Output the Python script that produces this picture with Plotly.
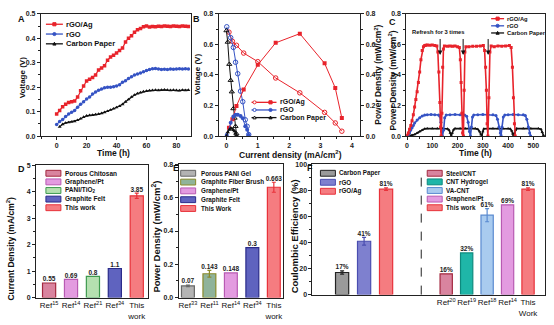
import plotly.graph_objects as go

W, H = 554, 325
FONT = "Liberation Sans, Arial, sans-serif"


def PX(x):
    return x / W


def PY(y):
    return 1 - y / H


# ---------------- DATA ----------------
# Panel A: voltage vs time
a_time = [0, 2, 4, 6, 8, 10, 12, 14, 16, 18, 20, 22, 24, 26, 28, 30, 32, 34, 36, 38, 40, 42, 44,
          46, 48, 50, 52, 54, 56, 58, 60, 62, 64, 66, 68, 70, 72, 74, 76, 78, 80, 82, 84, 86, 88]
a_rgo_ag = [0.090, 0.105, 0.120, 0.130, 0.137, 0.140, 0.143, 0.160, 0.185, 0.205, 0.225, 0.232, 0.240,
            0.250, 0.270, 0.278, 0.288, 0.310, 0.323, 0.330, 0.340, 0.350, 0.360, 0.385, 0.400, 0.410,
            0.425, 0.435, 0.440, 0.447, 0.450, 0.446, 0.448, 0.447, 0.449, 0.448, 0.450, 0.449, 0.448,
            0.450, 0.449, 0.448, 0.450, 0.449, 0.448]
a_rgo = [0.047, 0.060, 0.068, 0.080, 0.090, 0.097, 0.105, 0.118, 0.130, 0.140, 0.152, 0.160, 0.172,
         0.180, 0.187, 0.192, 0.198, 0.200, 0.200, 0.202, 0.205, 0.210, 0.220, 0.226, 0.235, 0.243,
         0.250, 0.254, 0.258, 0.263, 0.268, 0.272, 0.275, 0.276, 0.274, 0.272, 0.273, 0.272, 0.274,
         0.273, 0.274, 0.275, 0.274, 0.275, 0.274]
a_time_cp = [2, 4, 6, 8, 10, 12, 14, 16, 18, 20, 22, 24, 26, 28, 30, 32, 34, 36, 38, 40, 42, 44,
             46, 48, 50, 52, 54, 56, 58, 60, 62, 64, 66, 68, 70, 72, 74, 76, 78, 80, 82, 84, 86, 88]
a_cp = [0.038, 0.048, 0.054, 0.056, 0.058, 0.060, 0.065, 0.071, 0.078, 0.083, 0.085, 0.086, 0.088,
        0.090, 0.093, 0.097, 0.102, 0.107, 0.112, 0.117, 0.122, 0.130, 0.140, 0.150, 0.160, 0.168,
        0.174, 0.178, 0.182, 0.184, 0.186, 0.187, 0.188, 0.187, 0.188, 0.189, 0.188, 0.187, 0.188,
        0.187, 0.186, 0.188, 0.187, 0.188]

# Panel B: polarisation (voltage) and power density vs current density
b_ag_j = [0.08, 0.19, 0.32, 0.55, 1.00, 1.57, 2.34, 3.13, 3.47, 3.68]
b_ag_v = [0.68, 0.62, 0.594, 0.543, 0.487, 0.38, 0.283, 0.155, 0.086, 0.032]
b_ag_p = [0.054, 0.11, 0.197, 0.305, 0.466, 0.61, 0.67, 0.476, 0.315, 0.118]
b_rgo_j = [0.01, 0.135, 0.22, 0.29, 0.36, 0.45, 0.52, 0.60, 0.66, 0.71]
b_rgo_v = [0.715, 0.644, 0.58, 0.483, 0.408, 0.294, 0.225, 0.107, 0.064, 0.01]
b_rgo_p = [0.007, 0.087, 0.128, 0.14, 0.14, 0.132, 0.117, 0.064, 0.042, 0.007]
b_cp_j = [0.0, 0.04, 0.09, 0.135, 0.17, 0.22, 0.26, 0.29, 0.32]
b_cp_v = [0.69, 0.615, 0.47, 0.365, 0.29, 0.18, 0.118, 0.064, 0.015]
b_cp_p = [0.0, 0.025, 0.042, 0.049, 0.049, 0.04, 0.031, 0.019, 0.005]

# Panel C: power density vs time with refresh
c_ag_t = [0, 5, 10, 15, 20, 25, 30, 35, 40, 45, 50, 55, 60, 65, 70, 75, 80, 90, 100, 110, 118, 122,
          126, 130, 133, 135, 138, 141, 144, 148, 160, 170, 180, 190, 200, 207, 211, 214, 217, 220,
          223, 226, 229, 233, 245, 260, 275, 290, 302, 307, 311, 314, 317, 320, 324, 328, 333, 345,
          360, 375, 390, 405, 412, 417, 421, 425, 428]
c_ag_p = [0.005, 0.02, 0.045, 0.07, 0.10, 0.14, 0.19, 0.24, 0.29, 0.35, 0.42, 0.50, 0.56, 0.585,
          0.592, 0.594, 0.595, 0.594, 0.596, 0.593, 0.59, 0.55, 0.42, 0.22, 0.06, 0.0, 0.15, 0.45,
          0.57, 0.59, 0.588, 0.59, 0.587, 0.589, 0.585, 0.58, 0.50, 0.35, 0.15, 0.02, 0.0, 0.30,
          0.55, 0.585, 0.585, 0.587, 0.588, 0.59, 0.592, 0.56, 0.45, 0.30, 0.08, 0.0, 0.25, 0.55,
          0.59, 0.585, 0.59, 0.588, 0.59, 0.592, 0.58, 0.45, 0.25, 0.08, 0.0]
c_rgo_t = [0, 5, 10, 15, 20, 25, 30, 40, 50, 60, 70, 80, 95, 110, 125, 130, 134, 137, 140, 145,
           149, 155, 170, 190, 210, 228, 236, 242, 247, 251, 255, 259, 264, 280, 300, 320, 340, 352,
           358, 364, 369, 372, 376, 381, 387, 400, 420, 440, 460, 468, 474, 480, 485, 489]
c_rgo_p = [0.0, 0.005, 0.02, 0.04, 0.055, 0.07, 0.085, 0.105, 0.12, 0.132, 0.138, 0.14, 0.141,
           0.139, 0.138, 0.13, 0.09, 0.03, 0.0, 0.04, 0.12, 0.138, 0.14, 0.141, 0.139, 0.138, 0.13,
           0.09, 0.03, 0.0, 0.06, 0.125, 0.138, 0.14, 0.141, 0.14, 0.139, 0.135, 0.11, 0.06, 0.02,
           0.005, 0.06, 0.125, 0.138, 0.14, 0.141, 0.14, 0.139, 0.135, 0.11, 0.06, 0.02, 0.0]
c_cp_t = [0, 10, 20, 30, 40, 50, 60, 70, 80, 100, 120, 140, 160, 166, 171, 175, 179, 184, 190, 210,
          230, 250, 270, 280, 287, 292, 296, 300, 304, 320, 340, 360, 380, 400, 408, 414, 418, 421,
          425, 429, 434, 460, 490, 520, 530, 535, 540]
c_cp_p = [0.0, 0.002, 0.005, 0.01, 0.02, 0.03, 0.04, 0.048, 0.05, 0.05, 0.049, 0.05, 0.048, 0.04,
          0.02, 0.003, 0.02, 0.042, 0.05, 0.05, 0.049, 0.05, 0.049, 0.045, 0.03, 0.01, 0.002, 0.03,
          0.048, 0.05, 0.05, 0.049, 0.05, 0.05, 0.048, 0.035, 0.015, 0.003, 0.02, 0.04, 0.05, 0.049,
          0.05, 0.05, 0.045, 0.025, 0.005]
c_refresh_times = [131, 222, 321]

# Panel D: current density comparison
d_labels = ["Ref<sup>15</sup>", "Ref<sup>14</sup>", "Ref<sup>21</sup>", "Ref<sup>34</sup>", "This<br>work"]
d_names = ["Porous Chitosan", "Graphene/Pt", "PANI/TiO<sub>2</sub>", "Graphite Felt", "This work"]
d_values = [0.55, 0.69, 0.8, 1.1, 3.85]
d_errors = [0, 0, 0, 0, 0.1]
d_text = ["0.55", "0.69", "0.8", "1.1", "3.85"]

# Panel E: power density comparison
e_labels = ["Ref<sup>33</sup>", "Ref<sup>11</sup>", "Ref<sup>14</sup>", "Ref<sup>34</sup>", "This<br>work"]
e_names = ["Porous PANI Gel", "Graphite Fiber Brush", "Graphene/Pt", "Graphite Felt", "This Work"]
e_values = [0.07, 0.143, 0.148, 0.3, 0.663]
e_errors = [0.005, 0.02, 0, 0, 0.03]
e_text = ["0.07", "0.143", "0.148", "0.3", "0.663"]

# Panel F: coulombic efficiency
f1_names = ["Carbon Paper", "rGO", "rGO/Ag"]
f1_values = [17, 41, 81]
f1_errors = [1.2, 3, 1]
f1_text = ["17%", "41%", "81%"]
f2_labels = ["Ref<sup>20</sup>", "Ref<sup>19</sup>", "Ref<sup>18</sup>", "Ref<sup>14</sup>", "This<br>Work"]
f2_names = ["Steel/CNT", "CNT Hydrogel", "VA-CNT", "Graphene/Pt", "This work"]
f2_values = [16, 32, 61, 69, 81]
f2_errors = [0, 0, 5, 0, 1]
f2_text = ["16%", "32%", "61%", "69%", "81%"]

# ---------------- STYLE ----------------
RED = "#e8232b"
BLUE = "#3553c4"
BLACK = "#111111"
AXC = "#222222"

d_fill = ["#d9849f", "#e39be0", "#b5e0b0", "#5f63bf", "#f57c80"]
d_line = ["#a3283f", "#b85ab2", "#3d9a4e", "#2a2b8a", "#e8323a"]
e_fill = ["#b3b3b3", "#8fb39a", "#e39be0", "#5f63bf", "#f57c80"]
e_line = ["#666666", "#8a8a2a", "#b85ab2", "#2a2b8a", "#e8323a"]
f1_fill = ["#9a9a9a", "#7e80cf", "#f57c80"]
f1_line = ["#222222", "#4a4db0", "#e8323a"]
f2_fill = ["#d9849f", "#1fb6a8", "#a9cbef", "#e39be0", "#f57c80"]
f2_line = ["#a3283f", "#0d8a7e", "#5a8ad0", "#b85ab2", "#e8323a"]


def tfont(size=7, bold=True, color=AXC):
    return dict(family=FONT, size=size, color=color, weight="bold" if bold else "normal")


def lin_axis(domain, rng, dtick, minor_dtick, anchor, **kw):
    d = dict(domain=domain, range=rng, dtick=dtick, anchor=anchor, showline=True, linecolor=AXC,
             linewidth=1, mirror=True, ticks="outside", ticklen=3, tickwidth=1, tickcolor=AXC,
             tickfont=tfont(7), showgrid=False, zeroline=False,
             minor=dict(dtick=minor_dtick, ticks="outside", ticklen=2, tickcolor=AXC, showgrid=False))
    d.update(kw)
    return d


def cat_axis(domain, rng, anchor, **kw):
    d = dict(domain=domain, range=rng, anchor=anchor, type="category", showline=True, linecolor=AXC,
             linewidth=1, mirror=True, ticks="", tickangle=0, tickfont=tfont(8, False, "#111"),
             showgrid=False, zeroline=False)
    d.update(kw)
    return d


fig = go.Figure()

# ---------- Panel A ----------
for t, v, c, sym in [(a_time, a_rgo_ag, RED, "square"), (a_time, a_rgo, BLUE, "circle"),
                     (a_time_cp, a_cp, BLACK, "triangle-up")]:
    fig.add_trace(go.Scatter(x=t, y=v, mode="lines+markers", xaxis="x", yaxis="y",
                             line=dict(color=c, width=1.2), marker=dict(symbol=sym, size=3.5, color=c),
                             showlegend=False))

# ---------- Panel B ----------
for j, v, p, c, osym, fsym in [(b_ag_j, b_ag_v, b_ag_p, RED, "circle-open", "square"),
                               (b_rgo_j, b_rgo_v, b_rgo_p, BLUE, "circle-open", "circle"),
                               (b_cp_j, b_cp_v, b_cp_p, BLACK, "triangle-up-open", "triangle-up")]:
    fig.add_trace(go.Scatter(x=j, y=v, mode="lines+markers", xaxis="x2", yaxis="y2",
                             line=dict(color=c, width=1), marker=dict(symbol=osym, size=4.5, color=c,
                                                                       line=dict(width=1, color=c)),
                             showlegend=False))
    fig.add_trace(go.Scatter(x=j, y=p, mode="lines+markers", xaxis="x2", yaxis="y3",
                             line=dict(color=c, width=1), marker=dict(symbol=fsym, size=4, color=c),
                             showlegend=False))

# ---------- Panel C ----------
for t, p, c, sym in [(c_cp_t, c_cp_p, BLACK, "triangle-up"), (c_rgo_t, c_rgo_p, BLUE, "circle"),
                     (c_ag_t, c_ag_p, RED, "square")]:
    fig.add_trace(go.Scatter(x=t, y=p, mode="lines+markers", xaxis="x3", yaxis="y4",
                             line=dict(color=c, width=1.6), marker=dict(symbol=sym, size=3, color=c),
                             showlegend=False))


# ---------- Bars ----------
def add_bars(labels, values, errors, texts, fills, lines, xa, ya):
    for i in range(len(values)):
        err = errors[i]
        fig.add_trace(go.Bar(x=[labels[i]], y=[values[i]], xaxis=xa, yaxis=ya, width=0.6,
                             marker=dict(color=fills[i], line=dict(color=lines[i], width=1.2)),
                             error_y=dict(type="data", array=[err], visible=err > 0, color=lines[i],
                                          thickness=1.2, width=2),
                             showlegend=False))
        fig.add_trace(go.Scatter(x=[labels[i]], y=[values[i] + err], xaxis=xa, yaxis=ya, mode="text",
                                 text=[texts[i]], textposition="top center", textfont=tfont(6.5, True, "#222"),
                                 cliponaxis=False, showlegend=False))


add_bars(d_labels, d_values, d_errors, d_text, d_fill, d_line, "x4", "y5")
add_bars(e_labels, e_values, e_errors, e_text, e_fill, e_line, "x5", "y6")
add_bars(f1_names, f1_values, f1_errors, f1_text, f1_fill, f1_line, "x6", "y7")
add_bars(f2_labels, f2_values, f2_errors, f2_text, f2_fill, f2_line, "x7", "y8")

# ---------- Layout / axes ----------
dA_x = [PX(40), PX(190)]
dA_y = [PY(135), PY(10)]
dB_x = [PX(218), PX(360)]
dC_x = [PX(406), PX(545)]
dD_x = [PX(35), PX(147)]
dD_y = [PY(300), PY(165)]
dE_x = [PX(178), PX(283)]
dE_y = [PY(300), PY(164)]
dF1_x = [PX(312), PX(421)]
dF2_x = [PX(421), PX(545)]
dF_y = [PY(297), PY(164)]

layout = dict(
    width=W, height=H, margin=dict(l=0, r=0, t=0, b=0), paper_bgcolor="white", plot_bgcolor="white",
    showlegend=False, barmode="overlay", font=dict(family=FONT),
    xaxis=lin_axis(dA_x, [-10.5, 89.5], 20, 10, "y"),
    yaxis=lin_axis(dA_y, [0, 0.5], 0.1, 0.05, "x", tickformat=".1f"),
    xaxis2=lin_axis(dB_x, [-0.25, 4.27], 1, 0.5, "y2"),
    yaxis2=lin_axis(dA_y, [0, 0.8], 0.2, 0.1, "x2", tickformat=".1f", mirror=False),
    yaxis3=lin_axis(dA_y, [0, 0.8], 0.2, 0.1, "x2", tickformat=".1f", mirror=False, side="right",
                    overlaying="y2"),
    xaxis3=lin_axis(dC_x, [-3, 546], 100, 50, "y4"),
    yaxis4=lin_axis(dA_y, [0, 0.8], 0.2, 0.1, "x3", tickformat=".1f"),
    xaxis4=cat_axis(dD_x, [-0.6, 4.5], "y5", categoryarray=d_labels, categoryorder="array"),
    yaxis5=lin_axis(dD_y, [0, 5], 1, 0.5, "x4"),
    xaxis5=cat_axis(dE_x, [-0.43, 4.45], "y6", categoryarray=e_labels, categoryorder="array"),
    yaxis6=lin_axis(dE_y, [0, 0.8], 0.2, 0.1, "x5", tickformat=".1f"),
    xaxis6=cat_axis(dF1_x, [-1.35, 3.6], "y7", categoryarray=f1_names, categoryorder="array",
                    showticklabels=False),
    yaxis7=lin_axis(dF_y, [0, 100], 20, 10, "x6", mirror=False),
    xaxis7=cat_axis(dF2_x, [-1.22, 4.83], "y8", categoryarray=f2_labels, categoryorder="array"),
    yaxis8=dict(domain=dF_y, range=[0, 100], anchor="x7", side="right", showline=True, linecolor=AXC,
                linewidth=1, showticklabels=False, ticks="", showgrid=False, zeroline=False),
)
fig.update_layout(**layout)

shapes = []
anns = []

# separator in F
shapes.append(dict(type="line", xref="x7 domain", yref="y8 domain", x0=0, x1=0, y0=0, y1=0.93,
                   line=dict(color=AXC, width=1, dash="dash")))


def ann(x, y, text, size, bold=True, xanchor="center", yanchor="middle", angle=0, color="#111"):
    anns.append(dict(xref="paper", yref="paper", x=PX(x), y=PY(y), text=text, showarrow=False,
                     xanchor=xanchor, yanchor=yanchor, textangle=angle,
                     font=tfont(size, bold, color)))


# panel letters
for lt, x, y in [("A", 20.5, 15.5), ("B", 196, 15.5), ("C", 392.5, 18), ("D", 21, 169),
                 ("E", 175, 168), ("F", 309.5, 168)]:
    ann(x, y, lt, 9)

# axis titles
ann(21, 75, "Voltage (V)", 8, angle=-90)
ann(113, 152.5, "Time (h)", 8.5)
ann(197, 72, "Voltage (V)", 8, angle=-90)
ann(290, 154, "Current density (mA/cm<sup>2</sup>)", 8.5)
ann(378, 72, "Power Density (mW/cm<sup>2</sup>)", 8.5, angle=-90)
ann(392, 78, "Power Density (mW/cm<sup>2</sup>)", 8.5, angle=-90)
ann(475, 152.5, "Time (h)", 8.5)
ann(10, 250, "Current Density (mA/cm<sup>2</sup>)", 8.5, angle=-90)
ann(155, 238, "Power Density (mW/cm<sup>2</sup>)", 9.5, angle=-90)
ann(294, 237, "Coulombic Efficiency (%)", 9.5, angle=-90)

# refresh annotation in C
ann(410, 29, "Refresh for 3 times", 5.8, xanchor="left")
for t in c_refresh_times:
    anns.append(dict(xref="x3", yref="y4", x=t, y=0.53, axref="x3", ayref="y4", ax=t, ay=0.645,
                     showarrow=True, arrowhead=2, arrowsize=0.9, arrowwidth=1, arrowcolor="#111", text=""))


# ---------- manual legends ----------
def mk_marker(kind, cx, cy, r, color, filled):
    fill = color if filled else "white"
    if kind == "square":
        shapes.append(dict(type="rect", xref="paper", yref="paper", x0=PX(cx - r), x1=PX(cx + r),
                           y0=PY(cy + r), y1=PY(cy - r), fillcolor=fill, line=dict(color=color, width=1)))
    elif kind == "circle":
        shapes.append(dict(type="circle", xref="paper", yref="paper", x0=PX(cx - r), x1=PX(cx + r),
                           y0=PY(cy + r), y1=PY(cy - r), fillcolor=fill, line=dict(color=color, width=1)))
    else:
        path = "M {},{} L {},{} L {},{} Z".format(PX(cx), PY(cy - r), PX(cx + r), PY(cy + r * 0.8),
                                                 PX(cx - r), PY(cy + r * 0.8))
        shapes.append(dict(type="path", xref="paper", yref="paper", path=path, fillcolor=fill,
                           line=dict(color=color, width=1)))


def line_entry(x0, x1, y, color, markers, text, tx, fs):
    shapes.append(dict(type="line", xref="paper", yref="paper", x0=PX(x0), x1=PX(x1), y0=PY(y), y1=PY(y),
                       line=dict(color=color, width=1.3)))
    for kind, cx, filled in markers:
        mk_marker(kind, cx, y, 1.6, color, filled)
    ann(tx, y, text, fs, xanchor="left")


def bar_entry(x0, y, fill, border, text, tx, fs, w=15, h=6):
    shapes.append(dict(type="rect", xref="paper", yref="paper", x0=PX(x0), x1=PX(x0 + w),
                       y0=PY(y + h / 2), y1=PY(y - h / 2), fillcolor=fill, line=dict(color=border, width=1)))
    ann(tx, y, text, fs, xanchor="left")


series_names = ["rGO/Ag", "rGO", "Carbon Paper"]
series_colors = [RED, BLUE, BLACK]
series_kinds = ["square", "circle", "triangle"]

for i in range(3):
    y = 20.7 + 10 * i
    line_entry(45, 62, y, series_colors[i], [(series_kinds[i], 53.5, True)], series_names[i], 63, 7.5)

b_open = ["circle", "circle", "triangle"]
for i in range(3):
    y = 100.5 + 7.8 * i
    line_entry(251, 276, y, series_colors[i], [(b_open[i], 254, False), (series_kinds[i], 270, True)],
               series_names[i], 278, 7)

for i in range(3):
    y = 15 + 7.3 * i
    line_entry(491, 504, y, series_colors[i], [(series_kinds[i], 497.5, True)], series_names[i], 505, 5.8)

for i in range(5):
    bar_entry(45, 173 + 8.8 * i, d_fill[i], d_line[i], d_names[i], 62, 6.5)
for i in range(5):
    bar_entry(180, 173 + 9 * i, e_fill[i], e_line[i], e_names[i], 198, 6.3)
for i in range(3):
    bar_entry(320, 173 + 9.2 * i, f1_fill[i], f1_line[i], f1_names[i], 337, 6.3)
for i in range(5):
    bar_entry(427, 173 + 8.8 * i, f2_fill[i], f2_line[i], f2_names[i], 444, 6.3)

fig.update_layout(shapes=shapes, annotations=anns)
fig.write_html("out.html")
